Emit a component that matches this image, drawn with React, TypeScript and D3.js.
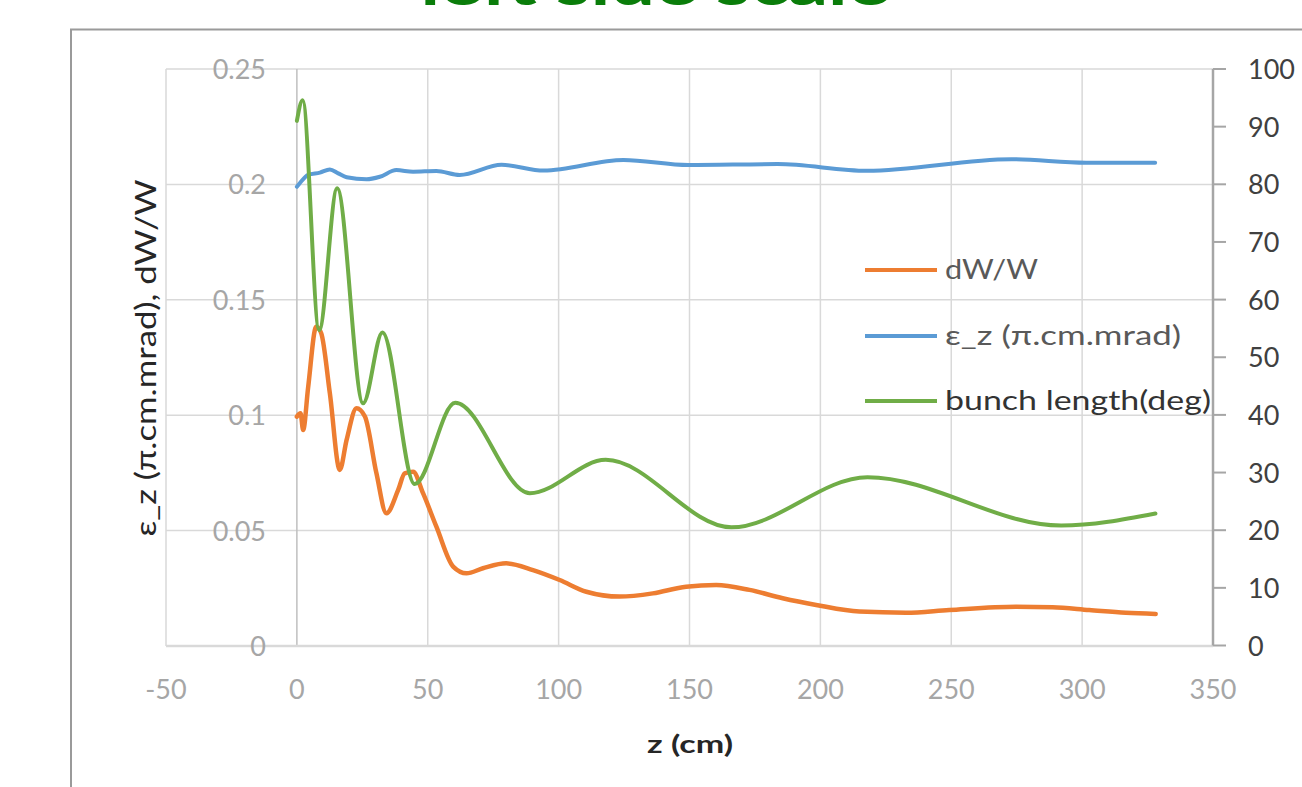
import React from "react";
import * as d3 from "d3";

const xTicks = [-50, 0, 50, 100, 150, 200, 250, 300, 350];
const leftTicks = [0, 0.05, 0.1, 0.15, 0.2, 0.25];
const leftTickLabels = ["0", "0.05", "0.1", "0.15", "0.2", "0.25"];
const rightTicks = [0, 10, 20, 30, 40, 50, 60, 70, 80, 90, 100];

const dwZ = [0, 1.4, 2.4, 4.3, 7.4, 9.3, 12.6, 16.4, 19, 22.8, 26, 30.4, 34.2, 38.7, 41.2, 44.4, 48.2, 53.3, 59.7, 64.8, 71.1, 80, 90.2, 100.4, 110.6, 123.3, 136, 148.7, 160.2, 172.9, 185.6, 198.4, 214.9, 232.7, 249.2, 274.7, 288.7, 302.7, 316.7, 328.1];
const dwW = [0.0994, 0.1008, 0.0936, 0.112, 0.1383, 0.1355, 0.1095, 0.0763, 0.0893, 0.103, 0.0994, 0.0748, 0.0575, 0.0676, 0.0748, 0.0755, 0.0662, 0.0517, 0.0344, 0.0315, 0.0337, 0.0358, 0.0329, 0.0286, 0.0235, 0.0214, 0.0228, 0.0257, 0.0264, 0.0243, 0.0207, 0.0178, 0.0149, 0.0144, 0.0156, 0.017, 0.0168, 0.0156, 0.0144, 0.0139];

const epsZ = [0, 1.1, 4.3, 8.8, 12.6, 15.8, 19, 26.6, 31.7, 38, 44.4, 53.3, 62.2, 78.2, 94.3, 124.8, 149.6, 183.6, 217.9, 272.9, 301.5, 327.9];
const epsV = [0.199, 0.2005, 0.2041, 0.2051, 0.2065, 0.2048, 0.2031, 0.2022, 0.2033, 0.2062, 0.2055, 0.2058, 0.2041, 0.2085, 0.206, 0.2106, 0.2084, 0.2088, 0.2059, 0.2109, 0.2094, 0.2094];

const bunchZ = [0, 2.2, 8.5, 15.4, 25.3, 32.7, 45, 60.5, 89, 118, 166, 218, 292, 328];
const bunchDeg = [91, 94.6, 54.7, 79.3, 42.0, 54.3, 28, 42.1, 26.4, 32.2, 20.5, 29.2, 20.8, 22.9];

const seriesNames = ["dW/W", "ε_z (π.cm.mrad)", "bunch length(deg)"];
const seriesColors = ["#ED7D31", "#5B9BD5", "#70AD47"];

const FONT = "Lato, 'Open Sans', sans-serif";

export default function App() {
  const x = d3.scaleLinear().domain([-50, 350]).range([166, 1213]);
  const yL = d3.scaleLinear().domain([0, 0.25]).range([646, 69]);
  const yR = d3.scaleLinear().domain([0, 100]).range([645.5, 69]);

  const mk = (zs: number[], vs: number[], y: d3.ScaleLinear<number, number>) =>
    d3
      .line<number>()
      .x((_, i) => x(zs[i]))
      .y((v) => y(v))
      .curve(d3.curveMonotoneX)(vs) || "";

  const paths = [mk(dwZ, dwW, yL), mk(epsZ, epsV, yL), mk(bunchZ, bunchDeg, yR)];
  const legendY = [270, 336, 401];
  const legendLen = [93, 236, 266];
  const legendFill = ["#595959", "#595959", "#333333"];

  return (
    <svg width={1302} height={787} style={{ position: "absolute", left: 0, top: 0, background: "#fff" }}>
      <text x={655} y={5} textAnchor="middle" fontFamily={FONT} fontWeight="bold" fontSize={60} fill="#0a7d0a" textLength={469} lengthAdjust="spacingAndGlyphs">
        left side scale
      </text>
      <rect x={71} y={29.5} width={1300} height={800} fill="none" stroke="#9a9a9a" strokeWidth={2} />

      {leftTicks.slice(1).map((t) => (
        <line key={"h" + t} x1={x(-50)} x2={x(350)} y1={yL(t)} y2={yL(t)} stroke="#d9d9d9" strokeWidth={1.5} />
      ))}
      {xTicks.filter((t) => t !== 0 && t !== 350).map((t) => (
        <line key={"v" + t} x1={x(t)} x2={x(t)} y1={yL(0.25)} y2={yL(0)} stroke="#d9d9d9" strokeWidth={1.5} />
      ))}
      <line x1={x(0)} x2={x(0)} y1={yL(0.25)} y2={yL(0)} stroke="#bfbfbf" strokeWidth={1.5} />
      <line x1={x(-50)} x2={x(350)} y1={yL(0)} y2={yL(0)} stroke="#d9d9d9" strokeWidth={2.5} />

      <line x1={x(350)} x2={x(350)} y1={yR(100)} y2={yR(0)} stroke="#a6a6a6" strokeWidth={2.5} />
      {rightTicks.map((t) => (
        <g key={"r" + t}>
          <line x1={x(350)} x2={x(350) + 13} y1={yR(t)} y2={yR(t)} stroke="#a6a6a6" strokeWidth={2} />
          <text x={1248} y={yR(t) + 10} fontFamily={FONT} fontSize={27} fill="#404040">
            {t}
          </text>
        </g>
      ))}

      {leftTicks.map((t, i) => (
        <text key={"l" + t} x={266} y={yL(t) + 10} textAnchor="end" fontFamily={FONT} fontSize={27} fill="#a6a6a6">
          {leftTickLabels[i]}
        </text>
      ))}
      {xTicks.map((t) => (
        <text key={"x" + t} x={x(t)} y={699} textAnchor="middle" fontFamily={FONT} fontSize={27} fill="#a6a6a6">
          {t}
        </text>
      ))}

      {paths.map((p, i) => (
        <path key={"s" + i} d={p} fill="none" stroke={seriesColors[i]} strokeWidth={i === 0 ? 4.5 : 4} strokeLinecap="round" strokeLinejoin="round" />
      ))}

      {seriesNames.map((n, i) => (
        <g key={"lg" + i}>
          <line x1={865} x2={937} y1={legendY[i]} y2={legendY[i]} stroke={seriesColors[i]} strokeWidth={4} />
          <text x={945} y={legendY[i] + 9} fontFamily={FONT} fontSize={26} fill={legendFill[i]} textLength={legendLen[i]} lengthAdjust="spacingAndGlyphs">
            {n}
          </text>
        </g>
      ))}

      <text x={690} y={753} textAnchor="middle" fontFamily={FONT} fontWeight="bold" fontSize={25} fill="#262626" textLength={86} lengthAdjust="spacingAndGlyphs">
        z (cm)
      </text>
      <text transform="translate(156,358) rotate(-90)" textAnchor="middle" fontFamily={FONT} fontSize={28} fill="#262626" textLength={357} lengthAdjust="spacingAndGlyphs">
        ε_z (π.cm.mrad), dW/W
      </text>
    </svg>
  );
}
